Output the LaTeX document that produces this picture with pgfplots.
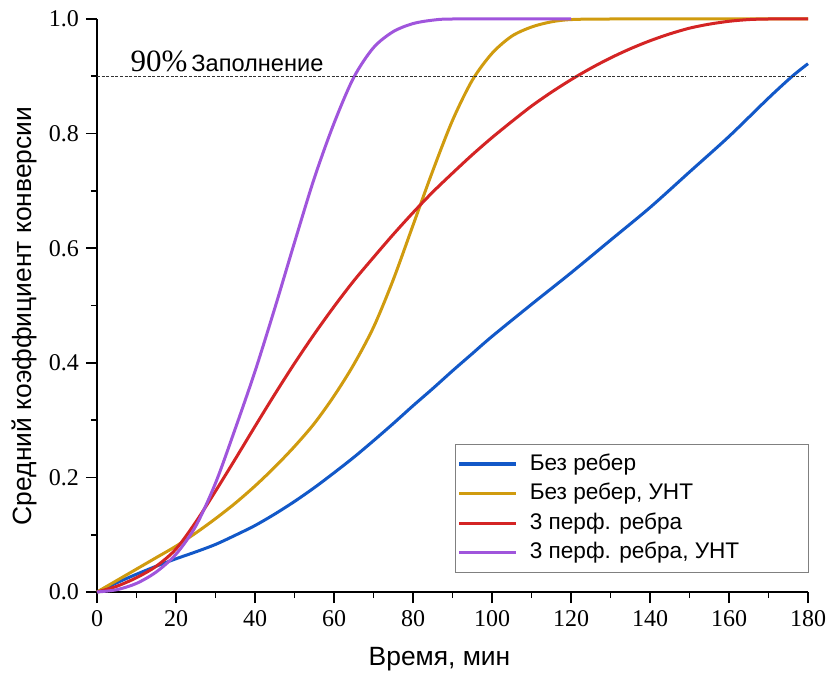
\documentclass[border=0pt]{standalone}
\usepackage{pgfplots}
\pgfplotsset{compat=1.18}
\usepackage{fontspec}
\setmainfont{Liberation Sans}
\newfontfamily\serif{Liberation Serif}

\definecolor{cblue}{RGB}{18,88,200}
\definecolor{cgold}{RGB}{208,155,15}
\definecolor{cred}{RGB}{212,36,36}
\definecolor{cpurple}{RGB}{160,85,220}

\begin{document}
\begin{tikzpicture}
\begin{axis}[
    scale only axis,
    width=355.5pt, height=286.5pt,
    xmin=0, xmax=180, ymin=0, ymax=1.0,
    axis lines=left,
    axis line style={-, line width=1pt},
    xtick={0,20,...,180},
    ytick={0,0.2,...,1.0},
    minor x tick num=1,
    minor y tick num=1,
    tick align=outside,
    major tick length=5.5pt,
    minor tick length=3pt,
    every tick/.style={black, line width=0.9pt},
    /pgf/number format/assume math mode=true,
    tick label style={font=\serif\fontsize{12}{14}\selectfont},
    yticklabel style={/pgf/number format/fixed, /pgf/number format/fixed zerofill, /pgf/number format/precision=1},
    xlabel={Время, мин},
    ylabel={Средний коэффициент конверсии},
    label style={font=\fontsize{13.2}{15}\selectfont},
    xlabel style={at={(axis description cs:0.4817,-0.1274)}, anchor=base},
    ylabel style={at={(axis description cs:-0.1027,0.4817)}, anchor=center, rotate=0},
    legend cell align=left,
    legend style={at={(rel axis cs:1.002,0.033)}, anchor=south east, draw=gray, line width=0.6pt,
        font=\fontsize{11.3}{13}\selectfont, inner xsep=1pt, inner ysep=3.3pt, row sep=1.8pt,
        nodes={inner sep=1.5pt, text height=8pt, text depth=2pt}},
    legend image code/.code={\draw[#1, line width=1.6pt] (0pt,0pt) -- (28.5pt,0pt); \path (33pt,0pt);},
    clip=false,
]
\addplot[cblue, line width=1.5pt, smooth] coordinates {
 (0,0) (5,0.016) (10,0.031) (15,0.045) (20,0.058) (25,0.07) (30,0.083) (35,0.099)
 (40,0.116) (45,0.136) (50,0.158) (55,0.182) (60,0.208) (65,0.235) (70,0.264) (75,0.294)
 (80,0.325) (85,0.355) (90,0.386) (95,0.416) (100,0.446) (110,0.502) (120,0.557)
 (130,0.614) (140,0.671) (150,0.733) (160,0.795) (170,0.862) (176,0.9) (180,0.922)
};
\addlegendentry{\makebox[137pt][l]{Без ребер}}
\addplot[cgold, line width=1.5pt, smooth] coordinates {
 (0,0) (5,0.02) (10,0.04) (15,0.06) (20,0.08) (25,0.103) (30,0.128) (35,0.155)
 (40,0.185) (45,0.218) (50,0.254) (55,0.294) (60,0.342) (65,0.397) (70,0.462) (75,0.545)
 (80,0.64) (85,0.735) (90,0.823) (95,0.893) (100,0.94) (105,0.97) (110,0.986)
 (115,0.995) (120,0.999) (130,1.0) (160,1.0) (180,1.0)
};
\addlegendentry{Без ребер, УНТ}
\addplot[cred, line width=1.5pt, smooth] coordinates {
 (0,0) (5,0.01) (10,0.025) (15,0.045) (20,0.075) (25,0.122) (30,0.176) (35,0.232)
 (40,0.289) (45,0.345) (50,0.399) (55,0.45) (60,0.498) (65,0.543) (70,0.584) (75,0.624)
 (80,0.662) (85,0.698) (90,0.731) (95,0.763) (100,0.793) (105,0.821) (110,0.848)
 (115,0.872) (120,0.894) (125,0.914) (130,0.932) (135,0.948) (140,0.962) (145,0.974)
 (150,0.984) (155,0.991) (160,0.996) (165,0.999) (170,1.0) (180,1.0)
};
\addlegendentry{3 перф. ребра}
\addplot[cpurple, line width=1.5pt, smooth] coordinates {
 (0,0) (5,0.004) (10,0.015) (15,0.035) (20,0.066) (25,0.115) (30,0.19) (35,0.285)
 (40,0.385) (45,0.495) (50,0.61) (55,0.722) (60,0.818) (65,0.898) (70,0.95) (75,0.978)
 (80,0.992) (85,0.998) (90,1.0) (110,1.0) (120,1.0)
};
\addlegendentry{3 перф. ребра, УНТ}
\addplot[black!80, line width=0.6pt, dash pattern=on 1.5pt off 0.8pt, forget plot] coordinates {(0,0.9) (179.5,0.9)};
\node[anchor=base west, inner sep=0pt] at (axis cs:8.4,0.9075)
  {{\serif\fontsize{15.5}{17}\selectfont 90\%}\hspace{2pt}{\fontsize{11.8}{13}\selectfont Заполнение}};
\end{axis}
\pgfresetboundingbox
\path[use as bounding box] ([shift={(-48.5pt,-41.5pt)}]current axis.south west) rectangle ([shift={(10.5pt,9.5pt)}]current axis.north east);
\end{tikzpicture}
\end{document}
